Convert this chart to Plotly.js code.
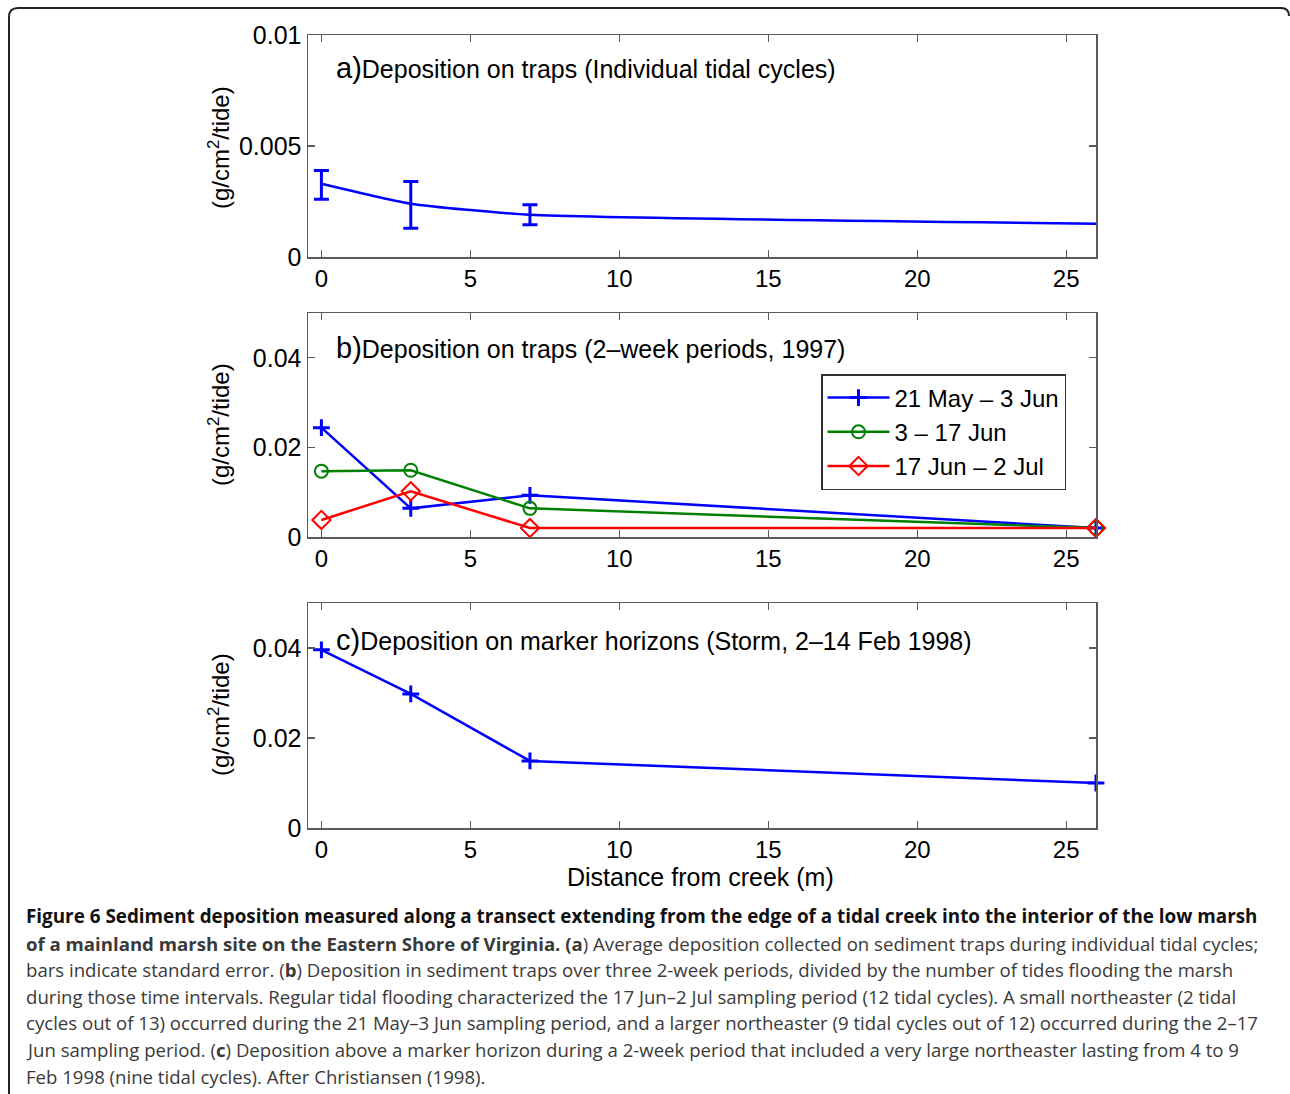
<!DOCTYPE html>
<html>
<head>
<meta charset="utf-8">
<script src="https://cdn.plot.ly/plotly-3.0.1.min.js"></script>
<style>
  html, body { margin: 0; padding: 0; background: #fff; }
  #chart { width: 1290px; height: 1094px; }
</style>
</head>
<body>
<div id="chart"></div>
<script>
// ---- data ----
const distance = [0, 3, 7, 26];
const xTickVals = [0, 5, 10, 15, 20, 25];

// (a) individual tidal cycles
const tidalMean = [0.0033, 0.0024, 0.0019, 0.0015];
const tidalErrPlus = [0.0006, 0.0010, 0.00045];
const tidalErrMinus = [0.0007, 0.0011, 0.00045];
const aTickVals = [0, 0.005, 0.01];
const aTickText = ['0', '0.005', '0.01'];

// (b) 2-week periods 1997
const seriesNames = ['21 May \u2013 3 Jun', '3 \u2013 17 Jun', '17 Jun \u2013 2 Jul'];
const may21Jun3 = [0.0244, 0.0064, 0.0093, 0.0020];
const jun3Jun17 = [0.0147, 0.0149, 0.0064, 0.0020];
const jun17Jul2 = [0.0038, 0.0102, 0.0020, 0.0020];

// (c) marker horizons, storm
const markerHorizon = [0.0396, 0.0298, 0.0149, 0.0100];
const bcTickVals = [0, 0.02, 0.04];
const bcTickText = ['0', '0.02', '0.04'];

const panelTitles = [
  ['a)', 'Deposition on traps (Individual tidal cycles)'],
  ['b)', 'Deposition on traps (2\u2013week periods, 1997)'],
  ['c)', 'Deposition on marker horizons (Storm, 2\u201314 Feb 1998)']
];
const yTitle = '(g/cm<sup>2</sup>/tide)';
const xTitle = 'Distance from creek (m)';

const captionLines = [
  '<b>Figure 6 Sediment deposition measured along a transect extending from the edge of a tidal creek into the interior of the low marsh</b>',
  '<b>of a mainland marsh site on the Eastern Shore of Virginia. (a</b>) Average deposition collected on sediment traps during individual tidal cycles;',
  'bars indicate standard error. (<b>b</b>) Deposition in sediment traps over three 2-week periods, divided by the number of tides flooding the marsh',
  'during those time intervals. Regular tidal flooding characterized the 17 Jun\u20132 Jul sampling period (12 tidal cycles). A small northeaster (2 tidal',
  'cycles out of 13) occurred during the 21 May\u20133 Jun sampling period, and a larger northeaster (9 tidal cycles out of 12) occurred during the 2\u201317',
  'Jun sampling period. (<b>c</b>) Deposition above a marker horizon during a 2-week period that included a very large northeaster lasting from 4 to 9',
  'Feb 1998 (nine tidal cycles). After Christiansen (1998).'
];

// ---- layout helpers (pixel -> paper) ----
const W = 1290, H = 1094;
const px = v => v / W;
const py = v => 1 - v / H;

const FONT = 'Liberation Sans, Arial, Helvetica, sans-serif';
const BLUE = '#0000ff', GREEN = '#008000', RED = '#ff0000';
const AXC = '#5a5a5a';

function xAxis(anchor) {
  return {
    domain: [px(308), px(1096)], anchor: anchor,
    range: [-0.45, 26], tickvals: xTickVals, ticktext: xTickVals.map(String),
    ticks: 'inside', ticklen: 7, tickwidth: 1.3, tickcolor: AXC,
    showline: true, linecolor: AXC, linewidth: 1.5, mirror: 'ticks',
    showgrid: false, zeroline: false,
    tickfont: {family: FONT, size: 24, color: '#000'}
  };
}
function yAxis(anchor, top, bottom, range, vals, text) {
  return {
    domain: [py(bottom), py(top)], anchor: anchor,
    range: range, tickvals: vals, ticktext: text,
    ticks: 'inside', ticklen: 7, tickwidth: 1.3, tickcolor: AXC,
    showline: true, linecolor: AXC, linewidth: 1.5, mirror: 'ticks',
    showgrid: false, zeroline: false,
    tickfont: {family: FONT, size: 25, color: '#000'}
  };
}

const traces = [
  {
    x: distance, y: tidalMean, xaxis: 'x', yaxis: 'y', mode: 'lines',
    line: {color: BLUE, width: 2.5, shape: 'spline', smoothing: 0.5},
    error_y: {type: 'data', symmetric: false, array: tidalErrPlus, arrayminus: tidalErrMinus,
              color: BLUE, thickness: 3, width: 7.5},
    showlegend: false, cliponaxis: false
  },
  {
    x: distance, y: may21Jun3, xaxis: 'x2', yaxis: 'y2', mode: 'lines+markers', name: seriesNames[0],
    line: {color: BLUE, width: 2.5},
    marker: {symbol: 'cross-thin-open', size: 12, line: {color: BLUE, width: 3}},
    cliponaxis: false
  },
  {
    x: distance, y: jun3Jun17, xaxis: 'x2', yaxis: 'y2', mode: 'lines+markers', name: seriesNames[1],
    line: {color: GREEN, width: 2.5},
    marker: {symbol: 'circle-open', size: 13, color: GREEN, line: {color: GREEN, width: 2}},
    cliponaxis: false
  },
  {
    x: distance, y: jun17Jul2, xaxis: 'x2', yaxis: 'y2', mode: 'lines+markers', name: seriesNames[2],
    line: {color: RED, width: 2.5},
    marker: {symbol: 'diamond-open', size: 14, color: RED, line: {color: RED, width: 2}},
    cliponaxis: false
  },
  {
    x: distance, y: markerHorizon, xaxis: 'x3', yaxis: 'y3', mode: 'lines+markers',
    line: {color: BLUE, width: 2.5},
    marker: {symbol: 'cross-thin-open', size: 12, line: {color: BLUE, width: 3}},
    showlegend: false, cliponaxis: false
  }
];

const annotations = [];
const titleY = [68, 348, 640];
panelTitles.forEach((t, i) => {
  annotations.push({
    xref: 'paper', yref: 'paper', x: px(334), y: py(titleY[i]), xanchor: 'left', yanchor: 'middle',
    showarrow: false,
    text: '<span style="font-size:29px">' + t[0] + '</span>' + t[1],
    font: {family: FONT, size: 25, color: '#000'}
  });
});
const yTitleCenters = [148, 425, 715];
yTitleCenters.forEach(c => {
  annotations.push({
    xref: 'paper', yref: 'paper', x: px(219), y: py(c), xanchor: 'center', yanchor: 'middle',
    textangle: -90, showarrow: false, text: yTitle,
    font: {family: FONT, size: 24, color: '#000'}
  });
});
annotations.push({
  xref: 'paper', yref: 'paper', x: px(700), y: py(877), xanchor: 'center', yanchor: 'middle',
  showarrow: false, text: xTitle, font: {family: FONT, size: 25, color: '#000'}
});
const capY = [916, 943, 969, 996, 1022, 1049, 1076];
captionLines.forEach((line, i) => {
  annotations.push({
    xref: 'paper', yref: 'paper', x: px(24), y: py(capY[i]), xanchor: 'left', yanchor: 'middle',
    showarrow: false, text: line, align: 'left',
    font: {family: 'Open Sans, Noto Sans, sans-serif', size: i === 0 ? 18.85 : 18.6, color: i === 0 ? '#111' : '#3a3a3a'}
  });
});

const borderPath =
  'M ' + px(9) + ' ' + py(1094) +
  ' L ' + px(9) + ' ' + py(17) +
  ' Q ' + px(9) + ' ' + py(8) + ' ' + px(18) + ' ' + py(8) +
  ' L ' + px(1281) + ' ' + py(8) +
  ' Q ' + px(1289) + ' ' + py(8) + ' ' + px(1289) + ' ' + py(16);

const layout = {
  width: W, height: H,
  margin: {l: 0, r: 0, t: 0, b: 0},
  paper_bgcolor: '#fff', plot_bgcolor: '#fff',
  font: {family: FONT, color: '#000'},
  xaxis: xAxis('y'),
  yaxis: yAxis('x', 35, 257, [0, 0.01], aTickVals, aTickText),
  xaxis2: xAxis('y2'),
  yaxis2: yAxis('x2', 313, 537, [0, 0.05], bcTickVals, bcTickText),
  xaxis3: xAxis('y3'),
  yaxis3: yAxis('x3', 603, 828, [0, 0.05], bcTickVals, bcTickText),
  showlegend: true,
  legend: {
    x: px(821), y: py(374), xanchor: 'left', yanchor: 'top',
    bgcolor: '#fff', bordercolor: '#333', borderwidth: 1.5,
    font: {family: FONT, size: 24, color: '#000'},
    itemwidth: 62
  },
  annotations: annotations,
  shapes: [{
    type: 'path', xref: 'paper', yref: 'paper', path: borderPath,
    line: {color: '#222', width: 2}
  }]
};

Plotly.newPlot('chart', traces, layout, {displayModeBar: false, staticPlot: true});
</script>
</body>
</html>
